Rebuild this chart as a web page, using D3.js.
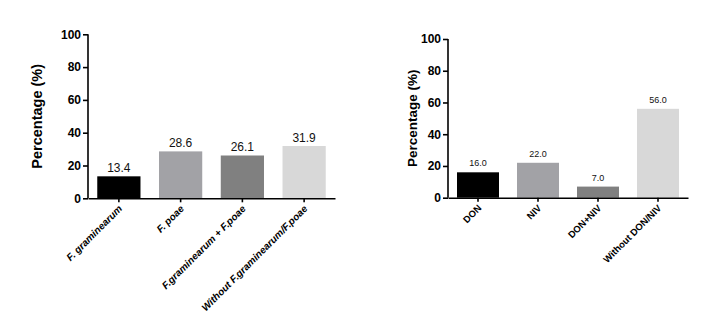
<!DOCTYPE html>
<html><head><meta charset="utf-8">
<script src="https://cdn.jsdelivr.net/npm/d3@7"></script>
<style>body{margin:0;background:#fff}svg{display:block;font-family:"Liberation Sans",Arial,sans-serif}</style>
</head><body>
<svg id="c" width="711" height="327"></svg>
<script>
const leftCategories = ["F. graminearum","F. poae","F.graminearum + F.poae","Without F.graminearum/F.poae"];
const leftValues = [13.4, 28.6, 26.1, 31.9];
const rightCategories = ["DON","NIV","DON+NIV","Without DON/NIV"];
const rightValues = [16.0, 22.0, 7.0, 56.0];
const yTicks = [0,20,40,60,80,100];
const barColors = ["#000000","#a2a2a6","#808080","#d8d8d8"];

const svg = d3.select("#c");

function panel(cfg){
  const g = svg.append("g");
  const x = d3.scaleBand().domain(cfg.cats).range([cfg.x0, cfg.x1]).paddingInner(0.3).paddingOuter(0.15);
  const y = d3.scaleLinear().domain([0,100]).range([cfg.y0, cfg.y1]);
  g.selectAll("rect.bar").data(cfg.vals).enter().append("rect")
    .attr("x",(d,i)=>x(cfg.cats[i])).attr("width",x.bandwidth())
    .attr("y",d=>y(d)).attr("height",d=>y(0)-y(d))
    .attr("fill",(d,i)=>barColors[i]);
  g.selectAll("text.val").data(cfg.vals).enter().append("text")
    .attr("x",(d,i)=>x(cfg.cats[i])+x.bandwidth()/2).attr("y",d=>y(d)-cfg.valGap)
    .attr("text-anchor","middle").attr("font-size",cfg.valSize).attr("fill","#111")
    .text(d=>d.toFixed(1));
  const ya = g.append("g").attr("transform",`translate(${cfg.x0},0)`)
    .call(d3.axisLeft(y).tickValues(yTicks).tickSize(5).tickPadding(2));
  ya.selectAll("text").attr("font-size",cfg.tickSize).attr("font-weight","bold").attr("fill","#000")
    .attr("font-family","'Liberation Sans',Arial,sans-serif");
  ya.selectAll("line,path").attr("stroke","#000").attr("stroke-width",1.6);
  ya.select("path").attr("d",`M0,${cfg.y1}V${cfg.y0}`);
  const xa = g.append("g").attr("transform",`translate(0,${cfg.y0})`)
    .call(d3.axisBottom(x).tickSize(4).tickSizeOuter(0));
  xa.selectAll("line,path").attr("stroke","#000").attr("stroke-width",1.6);
  xa.selectAll("text").attr("font-size",cfg.labSize).attr("font-weight","bold")
    .attr("font-style",cfg.italic?"italic":"normal").attr("fill","#000")
    .attr("font-family","'Liberation Sans',Arial,sans-serif")
    .attr("text-anchor","end").attr("dy",null).attr("y",0).attr("x",0)
    .attr("transform","translate(4,11) rotate(-45)");
  g.append("text").attr("transform",`translate(${cfg.titleX},${(cfg.y0+cfg.y1)/2}) rotate(-90)`)
    .attr("text-anchor","middle").attr("font-size",cfg.titleSize).attr("font-weight","bold")
    .attr("dy","0.35em").text("Percentage (%)");
}

panel({cats:leftCategories, vals:leftValues, x0:88, x1:335, y0:198.3, y1:34.3,
  valGap:4, valSize:12, tickSize:12, labSize:10, italic:true, titleX:37, titleSize:14.5});
panel({cats:rightCategories, vals:rightValues, x0:448, x1:688, y0:197.7, y1:39,
  valGap:6, valSize:9, tickSize:12, labSize:9.5, italic:false, titleX:412, titleSize:13.5});
</script>
</body></html>
